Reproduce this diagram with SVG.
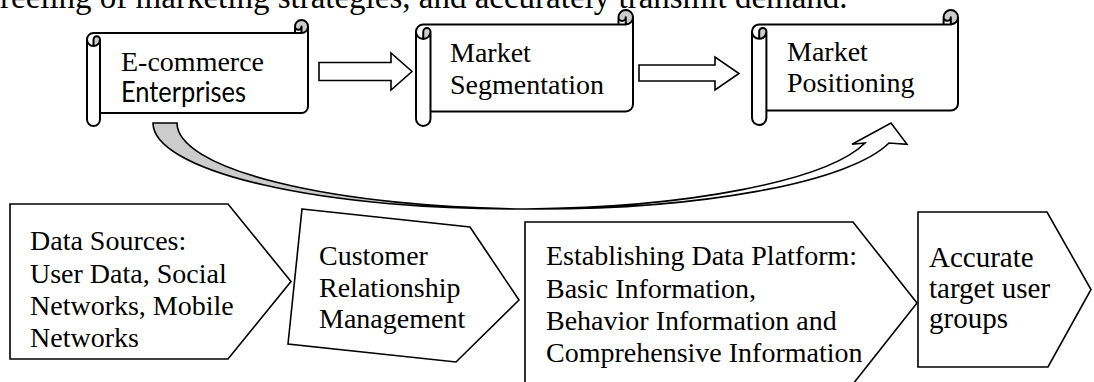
<svg xmlns="http://www.w3.org/2000/svg" width="1094" height="382" viewBox="0 0 1094 382">
  <style>
    .serif { font-family: "Liberation Serif", "Times New Roman", serif; font-size: 28px; fill: #000; }
    .sans { font-family: "Lato", "Liberation Sans", sans-serif; font-size: 28px; fill: #000; }
    .scroll-fill { fill: #fff; stroke: none; }
    .scroll-dark { fill: #cdcdcd; stroke: none; }
    .scroll-line { fill: none; stroke: #000; stroke-width: 2; stroke-linejoin: round; }
    .block { fill: #fff; stroke: #000; stroke-width: 1.6; stroke-linejoin: miter; }
    .band-back { fill: #cccccc; stroke: #000; stroke-width: 1.6; }
    .band-front { fill: #fff; stroke: #000; stroke-width: 1.6; stroke-linejoin: miter; }
  </style>

  <!-- running text line at the top edge -->
  <text class="serif" x="0" y="7.5" style="font-size:33px">reeling of marketing strategies, and accurately transmit demand.</text>

  <!-- top row: scroll nodes -->
  <g id="node-ecommerce">
    <path class="scroll-fill" d="M308,26.5 A6.5,6.5 0 0 1 301.5,33 L301.5,26.5 A3.25,3.25 0 0 1 295,26.5 L295,33 L93.5,33 A6.5,6.5 0 0 0 87,39.5 L87,119.5 A6.5,6.5 0 0 0 100,119.5 L100,113 L301.5,113 A6.5,6.5 0 0 0 308,106.5 Z"/>
    <path class="scroll-dark" d="M93.5,46 A6.5,6.5 0 0 0 100,39.5 A3.25,3.25 0 0 0 93.5,39.5 Z M301.5,33 A6.5,6.5 0 1 0 295,26.5 A3.25,3.25 0 0 0 301.5,26.5 Z"/>
    <path class="scroll-line" d="M87,39.5 A6.5,6.5 0 0 1 93.5,33 L295,33 L295,26.5 A6.5,6.5 0 0 1 308,26.5 L308,106.5 A6.5,6.5 0 0 1 301.5,113 L100,113 L100,119.5 A6.5,6.5 0 0 1 87,119.5 Z M295,33 L301.5,33 A6.5,6.5 0 0 0 308,26.5 M301.5,33 L301.5,26.5 A3.25,3.25 0 0 1 295,26.5 M93.5,46 L93.5,39.5 A3.25,3.25 0 0 1 100,39.5 A6.5,6.5 0 0 1 87,39.5 M100,39.5 L100,113"/>
    <text class="serif" x="121" y="71">E-commerce</text>
    <text class="sans" x="121" y="102" textLength="125" lengthAdjust="spacingAndGlyphs">Enterprises</text>
  </g>

  <g id="node-segmentation">
    <path class="scroll-fill" d="M633,17.25 A7.25,7.25 0 0 1 625.75,24.5 L625.75,17.25 A3.625,3.625 0 0 1 618.5,17.25 L618.5,24.5 L423.25,24.5 A7.25,7.25 0 0 0 416,31.75 L416,118.75 A7.25,7.25 0 0 0 430.5,118.75 L430.5,111.5 L625.75,111.5 A7.25,7.25 0 0 0 633,104.25 Z"/>
    <path class="scroll-dark" d="M423.25,39 A7.25,7.25 0 0 0 430.5,31.75 A3.625,3.625 0 0 0 423.25,31.75 Z M625.75,24.5 A7.25,7.25 0 1 0 618.5,17.25 A3.625,3.625 0 0 0 625.75,17.25 Z"/>
    <path class="scroll-line" d="M416,31.75 A7.25,7.25 0 0 1 423.25,24.5 L618.5,24.5 L618.5,17.25 A7.25,7.25 0 0 1 633,17.25 L633,104.25 A7.25,7.25 0 0 1 625.75,111.5 L430.5,111.5 L430.5,118.75 A7.25,7.25 0 0 1 416,118.75 Z M618.5,24.5 L625.75,24.5 A7.25,7.25 0 0 0 633,17.25 M625.75,24.5 L625.75,17.25 A3.625,3.625 0 0 1 618.5,17.25 M423.25,39 L423.25,31.75 A3.625,3.625 0 0 1 430.5,31.75 A7.25,7.25 0 0 1 416,31.75 M430.5,31.75 L430.5,111.5"/>
    <text class="serif" x="450" y="62">Market</text>
    <text class="serif" x="450" y="94">Segmentation</text>
  </g>

  <g id="node-positioning">
    <path class="scroll-fill" d="M958,17.2 A7.2,7.2 0 0 1 950.8,24.4 L950.8,17.2 A3.6,3.6 0 0 1 943.6,17.2 L943.6,24.4 L759.2,24.4 A7.2,7.2 0 0 0 752,31.6 L752,117.8 A7.2,7.2 0 0 0 766.4,117.8 L766.4,110.6 L950.8,110.6 A7.2,7.2 0 0 0 958,103.4 Z"/>
    <path class="scroll-dark" d="M759.2,38.8 A7.2,7.2 0 0 0 766.4,31.6 A3.6,3.6 0 0 0 759.2,31.6 Z M950.8,24.4 A7.2,7.2 0 1 0 943.6,17.2 A3.6,3.6 0 0 0 950.8,17.2 Z"/>
    <path class="scroll-line" d="M752,31.6 A7.2,7.2 0 0 1 759.2,24.4 L943.6,24.4 L943.6,17.2 A7.2,7.2 0 0 1 958,17.2 L958,103.4 A7.2,7.2 0 0 1 950.8,110.6 L766.4,110.6 L766.4,117.8 A7.2,7.2 0 0 1 752,117.8 Z M943.6,24.4 L950.8,24.4 A7.2,7.2 0 0 0 958,17.2 M950.8,24.4 L950.8,17.2 A3.6,3.6 0 0 1 943.6,17.2 M759.2,38.8 L759.2,31.6 A3.6,3.6 0 0 1 766.4,31.6 A7.2,7.2 0 0 1 752,31.6 M766.4,31.6 L766.4,110.6"/>
    <text class="serif" x="787" y="61">Market</text>
    <text class="serif" x="787" y="92">Positioning</text>
  </g>

  <!-- bottom row: pentagon nodes -->
  <g id="node-data-sources">
    <polygon class="block" points="10,204 228,204 291,281.5 228,359 10,359"/>
    <text class="serif" x="30" y="250">Data Sources:</text>
    <text class="serif" x="30" y="283">User Data, Social</text>
    <text class="serif" x="30" y="315">Networks, Mobile</text>
    <text class="serif" x="30" y="347">Networks</text>
  </g>

  <g id="node-crm">
    <polygon class="block" points="302,209 470,227 519,300 456,362 288,344"/>
    <text class="serif" x="319" y="265">Customer</text>
    <text class="serif" x="319" y="297">Relationship</text>
    <text class="serif" x="319" y="328">Management</text>
  </g>

  <g id="node-platform">
    <polygon class="block" points="525,222 853,222 917,303 853,384 525,384"/>
    <text class="serif" x="546" y="265">Establishing Data Platform:</text>
    <text class="serif" x="546" y="298">Basic Information,</text>
    <text class="serif" x="546" y="330">Behavior Information and</text>
    <text class="serif" x="546" y="362">Comprehensive Information</text>
  </g>

  <g id="node-target">
    <polygon class="block" points="918,212 1047,212 1091,289.5 1048,367 918,367"/>
    <text class="serif" x="929" y="267" style="font-size:29px">Accurate</text>
    <text class="serif" x="929" y="298" style="font-size:29px">target user</text>
    <text class="serif" x="929" y="328" style="font-size:29px">groups</text>
  </g>

  <!-- connectors -->
  <g id="connectors">
    <polygon class="block" points="319,62.5 391,62.5 391,53 412,71.5 391,90 391,80.5 319,80.5"/>
    <polygon class="block" points="639,65 715,65 715,57 739,73.5 715,90 715,81 639,81"/>
    <!-- curved band from the first scroll round to the third -->
    <path class="band-back" d="M153,123 L177,123 A361,86 0 0 0 526,208.95 A361,86 0 0 1 153,123 Z"/>
    <path class="band-front" d="M526,208.95 A361,86 0 0 0 889,143 L907,144.3 L891,123 L852,144.3 L865,143 A361,86 0 0 1 526,208.95 Z"/>
  </g>
</svg>
